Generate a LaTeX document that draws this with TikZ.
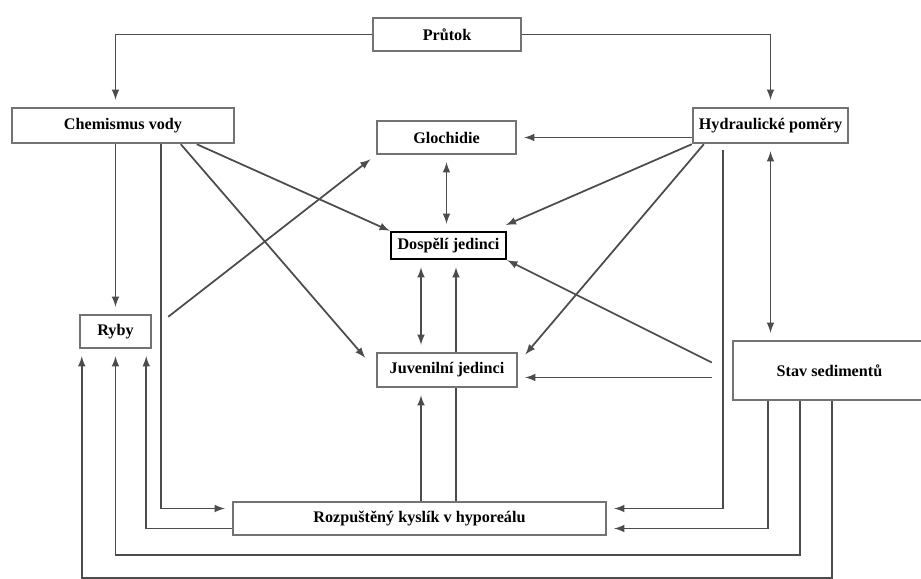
\documentclass[tikz,border=0pt]{standalone}
\usepackage{fontspec}
\setmainfont{Liberation Serif}
\usetikzlibrary{positioning, arrows, calc, backgrounds}
\tikzset{
	box/.style={draw=black!55, line width=1.4pt, fill=white, rectangle, text centered, inner sep=0pt,
		font=\fontsize{9.2}{11}\selectfont\bfseries},
	link/.style={draw=black!70, line width=1pt, -latex, shorten >=4pt},
	link2/.style={link, latex-latex, shorten <=4pt}
}
\begin{document}
\begin{tikzpicture}[x=0.02cm, y=-0.02cm]
			\useasboundingbox (0,0) rectangle (921,579);
			
			%Nodes
			\node (prutok) at (447,34.5) [box, minimum width=2.96cm, minimum height=0.66cm]{Průtok};
			
			\node (chem) at (123,125.5) [box, minimum width=4.44cm, minimum height=0.70cm]{Chemismus vody};
			
			\node (gloch) at (446.5,137.5) [box, minimum width=2.78cm, minimum height=0.66cm]{Glochidie};
			
			\node (hydro) at (770.5,125.5) [box, minimum width=3.10cm, minimum height=0.70cm]{Hydraulické poměry};
			
			\node (dosp) at (448.5,245.5) [box, draw=black, line width=1.4pt, minimum width=2.30cm, 
			minimum height=0.54cm]{Dospělí jedinci};
			
			\node (juv) at (447,370) [box, minimum width=2.80cm, minimum height=0.68cm]{Juvenilní jedinci};
			
			\node (ryby) at (115.5,331.5) [box, minimum width=1.42cm, minimum height=0.66cm]{Ryby};
			
			\node (stav) at (829.5,370.5) [box, minimum width=3.86cm, minimum height=1.18cm]{Stav sedimentů};
			
			\node (rozp) at (419.5,518.5) [box, minimum width=7.46cm, minimum height=0.66cm]{Rozpuštěný kyslík v hyporeálu};
			
			%Links
			\begin{scope}[on background layer]
			\coordinate (s1) at ($(stav.west)+(-20,7)$);
			\draw[link] (prutok.west) -| (ryby.north |- chem.north);
			\draw[link] (prutok.east) -| (hydro.north);
			\draw[link] (ryby.north |- chem.south) -- (ryby.north);
			\draw[link] ($(chem.south west)+(150,0)$) |- ([yshift=0.2cm]rozp.west);
			\draw[link] ($(chem.south west)+(170,0)$) -- ($(juv.west)+(-6,-7)$);
			\draw[link, shorten >=0pt] ($(chem.south west)+(186,0)$) -- (dosp.north west);
			\draw[link, shorten >=1pt] ($(ryby.north east)+(16,3)$) -- ($(gloch.south west)+(-4,3)$);
			\draw[link2] (gloch.south) -- (gloch.south |- dosp.north);
			\draw[link] (hydro.west |- gloch.east) -- (gloch.east);
			\draw[link, shorten >=1pt] (hydro.south west) -- ($(dosp.north east)+(-3,-5)$);
			\draw[link, shorten >=1pt] ($(hydro.south west)+(12,0)$) -- ($(juv.north east)+(6,4)$);
			\draw[link] ($(hydro.south west)+(31,6)$) |- ([yshift=0.2cm]rozp.east);
			\draw[link2] (hydro.south) -- (hydro.south |- stav.north);
			\draw[link, shorten >=0pt] ($(stav.west)+(-20,-8)$) -- (dosp.south east);
			\draw[link] (s1) -- (s1 -| juv.east);
			\draw[link] ($(stav.south west)+(36,0)$) |- ([yshift=-0.2cm]rozp.east);
			\draw[link] ($(stav.south west)+(68,0)$) -- ++(0,154) -| (ryby.south);
			\draw[link] ($(stav.south west)+(100,0)$) -- ++(0,177) -| ($(ryby.south west)+(3,0)$);
			\draw[link] ([yshift=-0.2cm]rozp.west) -| ($(ryby.south east)+(-6,0)$);
			\draw[link2] ($(juv.north)+(-26,0)$) -- ($(dosp.south)+(-27.5,0)$);
			\draw[link] ($(rozp.north)+(36.5,0)$) -- ($(dosp.south)+(7.5,0)$);
			\draw[link] ($(rozp.north)+(1.5,0)$) -- ($(juv.south)+(-26,0)$);
			\end{scope}
			
\end{tikzpicture}
\end{document}
